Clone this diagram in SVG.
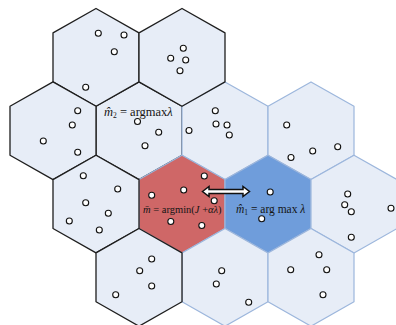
<svg xmlns="http://www.w3.org/2000/svg" width="396" height="325" viewBox="0 0 396 325">
<style>
.hk{fill:#E7EDF7;stroke:#1E1E1E;stroke-width:1.3;stroke-linejoin:round}
.hb{fill:#E7EDF7;stroke:#9CB6DC;stroke-width:1.2;stroke-linejoin:round}
.red{fill:#CF6767;stroke:#9CB6DC;stroke-width:1.2}
.blue{fill:#6F9DDB;stroke:#9CB6DC;stroke-width:1.2}
.pt{fill:#fff;stroke:#111;stroke-width:1.1}
.lbl{font-family:"Liberation Serif","Times New Roman",serif;fill:#151515}
.it{font-style:italic}
</style>
<rect width="396" height="325" fill="#fff"/>
<g id="cells">
<g id="h1-139"><polygon class="hk" points="139,81.9 182,106.3 182,155.2 139,179.6 96,155.2 96,106.3"/></g>
<g id="h1-225"><polygon class="hb" points="225,81.9 268,106.3 268,155.2 225,179.6 182,155.2 182,106.3"/></g>
<g id="h1-311"><polygon class="hb" points="311,81.9 354,106.3 354,155.2 311,179.6 268,155.2 268,106.3"/></g>
<g id="h2-182"><polygon class="red" points="182,155.2 225,179.6 225,228.5 182,252.9 139,228.5 139,179.6"/></g>
<g id="h2-268"><polygon class="blue" points="268,155.2 311,179.6 311,228.5 268,252.9 225,228.5 225,179.6"/></g>
<g id="h2-354"><polygon class="hb" points="354,155.2 397,179.6 397,228.5 354,252.9 311,228.5 311,179.6"/></g>
<g id="h3-225"><polygon class="hb" points="225,228.5 268,252.9 268,301.8 225,326.2 182,301.8 182,252.9"/></g>
<g id="h3-311"><polygon class="hb" points="311,228.5 354,252.9 354,301.8 311,326.2 268,301.8 268,252.9"/></g>
<g id="h0-96"><polygon class="hk" points="96,8.5 139,32.9 139,81.9 96,106.3 53,81.9 53,32.9"/></g>
<g id="h0-182"><polygon class="hk" points="182,8.5 225,32.9 225,81.9 182,106.3 139,81.9 139,32.9"/></g>
<g id="h1-53"><polygon class="hk" points="53,81.9 96,106.3 96,155.2 53,179.6 10,155.2 10,106.3"/></g>
<g id="h2-96"><polygon class="hk" points="96,155.2 139,179.6 139,228.5 96,252.9 53,228.5 53,179.6"/></g>
<g id="h3-139"><polygon class="hk" points="139,228.5 182,252.9 182,301.8 139,326.2 96,301.8 96,252.9"/></g>
</g>
<g id="points">
<circle class="pt" cx="98.3" cy="33.3" r="3"/>
<circle class="pt" cx="124" cy="35" r="3"/>
<circle class="pt" cx="114.3" cy="51.7" r="3"/>
<circle class="pt" cx="85.7" cy="87.3" r="3"/>
<circle class="pt" cx="183.3" cy="48.3" r="3"/>
<circle class="pt" cx="170.7" cy="58.3" r="3"/>
<circle class="pt" cx="185.7" cy="60" r="3"/>
<circle class="pt" cx="180" cy="70.7" r="3"/>
<circle class="pt" cx="77.7" cy="110.7" r="3"/>
<circle class="pt" cx="72.3" cy="125" r="3"/>
<circle class="pt" cx="43.3" cy="141" r="3"/>
<circle class="pt" cx="77.7" cy="152.3" r="3"/>
<circle class="pt" cx="137.5" cy="121.5" r="3"/>
<circle class="pt" cx="158.7" cy="132.3" r="3"/>
<circle class="pt" cx="145" cy="145.7" r="3"/>
<circle class="pt" cx="189" cy="130.5" r="3"/>
<circle class="pt" cx="215.3" cy="110.7" r="3"/>
<circle class="pt" cx="216" cy="124" r="3"/>
<circle class="pt" cx="227" cy="125" r="3"/>
<circle class="pt" cx="229.3" cy="135" r="3"/>
<circle class="pt" cx="286.7" cy="125" r="3"/>
<circle class="pt" cx="312.7" cy="151" r="3"/>
<circle class="pt" cx="337.7" cy="146.7" r="3"/>
<circle class="pt" cx="291" cy="157.5" r="3"/>
<circle class="pt" cx="83.3" cy="175.7" r="3"/>
<circle class="pt" cx="117.7" cy="189" r="3"/>
<circle class="pt" cx="85.7" cy="202.7" r="3"/>
<circle class="pt" cx="108.3" cy="213.3" r="3"/>
<circle class="pt" cx="69.3" cy="221" r="3"/>
<circle class="pt" cx="99.3" cy="230" r="3"/>
<circle class="pt" cx="151.7" cy="195.3" r="3"/>
<circle class="pt" cx="183.7" cy="190" r="3"/>
<circle class="pt" cx="170.8" cy="221.5" r="3"/>
<circle class="pt" cx="204.3" cy="176" r="3"/>
<circle class="pt" cx="214.2" cy="200.7" r="3"/>
<circle class="pt" cx="201.8" cy="225.5" r="3"/>
<circle class="pt" cx="270.2" cy="192" r="3"/>
<circle class="pt" cx="261.7" cy="218.7" r="3"/>
<circle class="pt" cx="347.7" cy="194" r="3"/>
<circle class="pt" cx="344.7" cy="204.7" r="3"/>
<circle class="pt" cx="351.3" cy="211.7" r="3"/>
<circle class="pt" cx="391" cy="208.3" r="3"/>
<circle class="pt" cx="351.3" cy="237.3" r="3"/>
<circle class="pt" cx="151.7" cy="259" r="3"/>
<circle class="pt" cx="139.7" cy="270.7" r="3"/>
<circle class="pt" cx="151.7" cy="286" r="3"/>
<circle class="pt" cx="115.7" cy="294.7" r="3"/>
<circle class="pt" cx="221.7" cy="270.7" r="3"/>
<circle class="pt" cx="216.3" cy="284" r="3"/>
<circle class="pt" cx="248.7" cy="302.3" r="3"/>
<circle class="pt" cx="319" cy="254.7" r="3"/>
<circle class="pt" cx="290.7" cy="269.7" r="3"/>
<circle class="pt" cx="326.7" cy="269.7" r="3"/>
<circle class="pt" cx="323" cy="294.7" r="3"/>
</g>
<g id="connectors">
<polygon points="202.5,191.5 209,186.5 209,189.5 243,189.5 243,186.5 249.5,191.5 243,196.5 243,193.5 209,193.5 209,196.5" fill="#fff" stroke="#111" stroke-width="1.5" stroke-linejoin="miter"/>
</g>
<g id="labels">
<text class="lbl" x="104" y="116" font-size="12.5"><tspan class="it">m&#x302;</tspan><tspan font-size="7.5" dy="2">2</tspan><tspan dy="-2"> = argmax</tspan><tspan class="it">λ</tspan></text>
<text class="lbl" x="143" y="213" font-size="10.5" fill="#2a1414"><tspan class="it">m&#x304;</tspan> = argmin(<tspan class="it">J</tspan> +<tspan class="it">αλ</tspan>)</text>
<text class="lbl" x="236" y="212.5" font-size="11.5"><tspan class="it">m&#x302;</tspan><tspan font-size="7.5" dy="2">1</tspan><tspan dy="-2"> = arg max </tspan><tspan class="it">λ</tspan></text>
</g>
</svg>
